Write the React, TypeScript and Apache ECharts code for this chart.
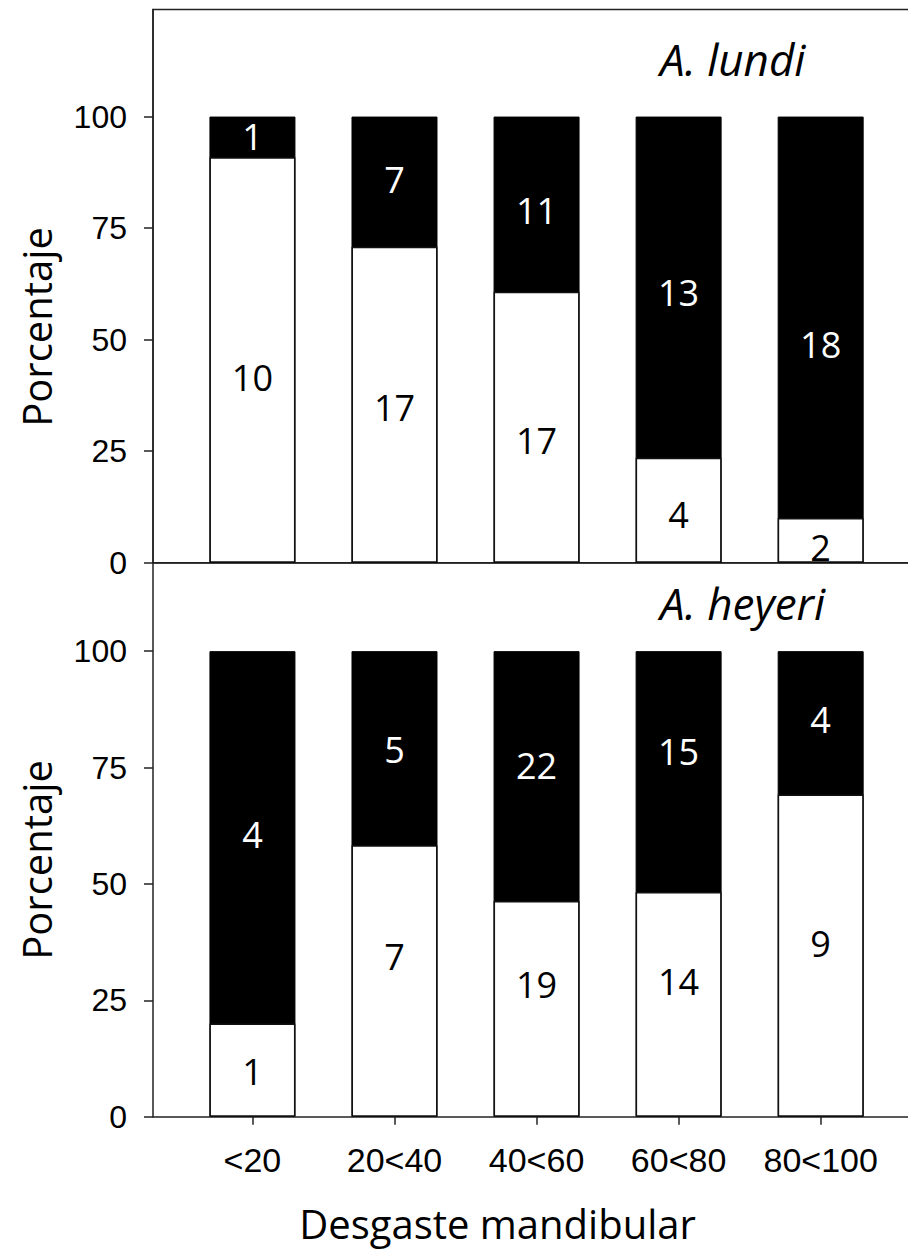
import React, { useEffect, useRef } from "react";
import * as echarts from "echarts";

const categories = ["<20", "20<40", "40<60", "60<80", "80<100"];
const yTicks = [0, 25, 50, 75, 100];
const catIdx = [0, 1, 2, 3, 4];

// counts per category (white = lower segment, black = upper segment)
const lundiWhite = [10, 17, 17, 4, 2];
const lundiBlack = [1, 7, 11, 13, 18];
const heyeriWhite = [1, 7, 19, 14, 9];
const heyeriBlack = [4, 5, 22, 15, 4];

// where the count labels sit, in percent units
const lundiWhiteLabelAt = [41.6, 34.7, 27.5, 10.7, 3.5];
const lundiBlackLabelAt = [95.5, 85.8, 79.0, 60.5, 48.8];
const heyeriWhiteLabelAt = [9.7, 34.5, 28.3, 29.0, 37.2];
const heyeriBlackLabelAt = [60.7, 78.9, 75.5, 78.5, 85.4];

const AXIS = "#222";
const SANS = "'Liberation Sans', Arial, sans-serif";
const OPEN = "'Open Sans', 'Noto Sans', sans-serif";

function pctWhite(w: number[], b: number[]) {
  return w.map((v, i) => (v / (v + b[i])) * 100);
}

function labelSeries(gi: number, counts: number[], at: number[], color: string) {
  return {
    type: "custom",
    xAxisIndex: gi,
    yAxisIndex: gi,
    z: 5,
    silent: true,
    encode: { x: 0, y: 1 },
    data: counts.map((c, i) => [i, at[i], c]),
    renderItem: (_params: any, api: any) => {
      const pt = api.coord([api.value(0), api.value(1)]);
      return {
        type: "text",
        x: pt[0],
        y: pt[1],
        style: {
          text: String(api.value(2)),
          fill: color,
          fontFamily: OPEN,
          fontSize: 36,
          align: "center",
          verticalAlign: "middle",
        },
      };
    },
  };
}

function buildSeries(
  white: number[],
  black: number[],
  whiteAt: number[],
  blackAt: number[],
  gi: number
) {
  const pw = pctWhite(white, black);
  return [
    {
      type: "bar",
      xAxisIndex: gi,
      yAxisIndex: gi,
      barWidth: 86,
      barGap: "-100%",
      data: pw.map((_, i) => [i, 100]),
      itemStyle: { color: "#000", borderColor: "#000", borderWidth: 1 },
      silent: true,
      z: 2,
    },
    {
      type: "bar",
      xAxisIndex: gi,
      yAxisIndex: gi,
      barWidth: 86,
      barGap: "-100%",
      data: pw.map((v, i) => [i, v]),
      itemStyle: { color: "#fff", borderColor: "#111", borderWidth: 1.5 },
      silent: true,
      z: 3,
    },
    labelSeries(gi, white, whiteAt, "#000"),
    labelSeries(gi, black, blackAt, "#fff"),
  ];
}

function yAxisCfg(gi: number, max: number) {
  return {
    type: "value",
    gridIndex: gi,
    min: 0,
    max,
    axisLine: { show: true, onZero: false, lineStyle: { color: AXIS, width: 1.5 } },
    axisTick: {
      show: true,
      length: 9,
      customValues: yTicks,
      lineStyle: { color: AXIS, width: 1.5 },
    },
    axisLabel: {
      show: true,
      customValues: yTicks,
      margin: 26,
      color: "#000",
      fontFamily: SANS,
      fontSize: 32,
    },
    splitLine: { show: false },
  };
}

function xAxisCfg(gi: number, withLabels: boolean) {
  return {
    type: "value",
    gridIndex: gi,
    min: -0.7,
    max: 4.84,
    axisLine: { show: true, onZero: false, lineStyle: { color: AXIS, width: 1.5 } },
    axisTick: {
      show: withLabels,
      length: 8,
      customValues: catIdx,
      lineStyle: { color: AXIS, width: 1.5 },
    },
    axisLabel: {
      show: withLabels,
      customValues: catIdx,
      margin: 26,
      formatter: (v: number) => categories[Math.round(v)] ?? "",
      color: "#000",
      fontFamily: SANS,
      fontSize: 34,
    },
    splitLine: { show: false },
  };
}

export default function App() {
  const ref = useRef<HTMLDivElement>(null);
  useEffect(() => {
    if (!ref.current) return;
    const chart = echarts.init(ref.current, undefined, { renderer: "svg" });
    chart.setOption({
      animation: false,
      backgroundColor: "#fff",
      grid: [
        {
          left: 153,
          top: 9.5,
          width: 787,
          height: 553.2,
          show: true,
          borderColor: AXIS,
          borderWidth: 1.5,
          backgroundColor: "transparent",
        },
        { left: 153, top: 562.7, width: 787, height: 554, show: false },
      ],
      xAxis: [xAxisCfg(0, false), xAxisCfg(1, true)],
      yAxis: [yAxisCfg(0, 124), yAxisCfg(1, 119)],
      series: [
        ...buildSeries(lundiWhite, lundiBlack, lundiWhiteLabelAt, lundiBlackLabelAt, 0),
        ...buildSeries(heyeriWhite, heyeriBlack, heyeriWhiteLabelAt, heyeriBlackLabelAt, 1),
      ],
      graphic: [
        {
          type: "text",
          x: 36,
          y: 327,
          rotation: Math.PI / 2,
          style: {
            text: "Porcentaje",
            fontFamily: OPEN,
            fontSize: 40,
            fill: "#000",
            textAlign: "center",
            textVerticalAlign: "middle",
          },
        },
        {
          type: "text",
          x: 36,
          y: 860,
          rotation: Math.PI / 2,
          style: {
            text: "Porcentaje",
            fontFamily: OPEN,
            fontSize: 40,
            fill: "#000",
            textAlign: "center",
            textVerticalAlign: "middle",
          },
        },
        {
          type: "text",
          x: 660,
          y: 59,
          style: {
            text: "A. lundi",
            fontFamily: OPEN,
            fontStyle: "italic",
            fontSize: 44,
            fill: "#000",
            textAlign: "left",
            textVerticalAlign: "middle",
          },
        },
        {
          type: "text",
          x: 660,
          y: 603,
          style: {
            text: "A. heyeri",
            fontFamily: OPEN,
            fontStyle: "italic",
            fontSize: 44,
            fill: "#000",
            textAlign: "left",
            textVerticalAlign: "middle",
          },
        },
        {
          type: "text",
          x: 497.5,
          y: 1223,
          style: {
            text: "Desgaste mandibular",
            fontFamily: OPEN,
            fontSize: 40,
            fill: "#000",
            textAlign: "center",
            textVerticalAlign: "middle",
          },
        },
      ],
    });
    return () => chart.dispose();
  }, []);
  return (
    <div
      style={{
        position: "absolute",
        left: 0,
        top: 0,
        width: 908,
        height: 1251,
        overflow: "hidden",
        background: "#fff",
      }}
    >
      <div ref={ref} style={{ width: 960, height: 1251 }} />
    </div>
  );
}
